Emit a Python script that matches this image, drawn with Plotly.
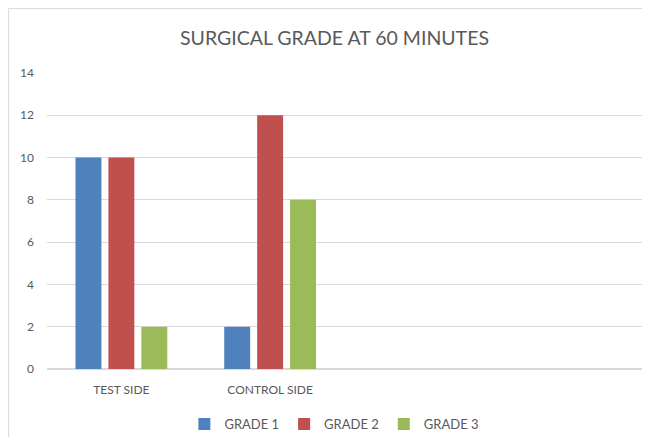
import plotly.graph_objects as go

categories = ["TEST SIDE", "CONTROL SIDE"]
grade1 = [10, 2]
grade2 = [10, 12]
grade3 = [2, 8]
series_names = ["GRADE 1", "GRADE 2", "GRADE 3"]
colors = ["#4F81BD", "#C0504D", "#9BBB59"]

fig = go.Figure()
for name, vals, c in zip(series_names, [grade1, grade2, grade3], colors):
    fig.add_trace(go.Bar(x=categories, y=vals, name=name, marker_color=c,
                         marker_line_width=0))

H = 429
font_fam = "Lato, Open Sans, sans-serif"
fig.update_layout(
    width=634, height=H,
    margin=dict(l=39, r=0, t=65, b=H - 361, autoexpand=False),
    paper_bgcolor="white", plot_bgcolor="white",
    title=dict(text="SURGICAL GRADE AT 60 MINUTES", x=0.515, xanchor="center",
               y=1 - 30 / H, yanchor="middle",
               font=dict(family=font_fam, size=19.5, color="#595959")),
    barmode="group", bargap=0.336, bargroupgap=0.212,
    font=dict(family=font_fam, size=12, color="#595959"),
    showlegend=True,
    legend=dict(orientation="h", x=0.483, xanchor="center", y=-0.186, yanchor="middle",
                font=dict(family=font_fam, size=13, color="#595959"),
                itemwidth=30, traceorder="normal"),
    xaxis=dict(type="category", range=[-0.5, 3.5], showgrid=False, ticks="",
               showline=False, ticklabelstandoff=12,
               tickfont=dict(size=12, color="#595959")),
    yaxis=dict(range=[0, 14], dtick=2, showgrid=True, gridcolor="#D9D9D9",
               gridwidth=1, zeroline=True, zerolinecolor="#D9D9D9", zerolinewidth=1.5,
               ticks="", showline=False, ticklabelstandoff=12,
               tickfont=dict(size=12, color="#595959")),
    shapes=[
        dict(type="line", xref="paper", yref="paper",
             x0=-0.0645, x1=-0.0645, y0=-0.4, y1=1.218,
             line=dict(color="#D9D9D9", width=1), layer="below"),
        dict(type="line", xref="paper", yref="paper",
             x0=-0.0645, x1=1.05, y0=1.218, y1=1.218,
             line=dict(color="#D9D9D9", width=1), layer="below"),
    ],
)

fig.write_html("out.html")
